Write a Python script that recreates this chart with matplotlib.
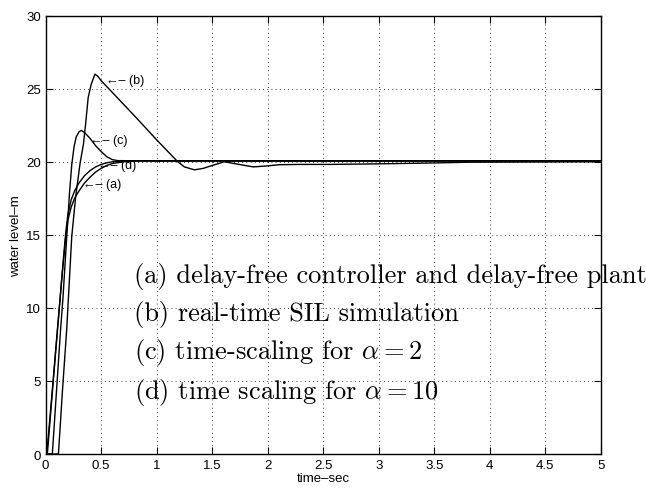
import matplotlib as mpl
mpl.use("Agg")
import matplotlib.pyplot as plt
import numpy as np

mpl.rcParams["font.family"] = "Liberation Sans"
mpl.rcParams["mathtext.fontset"] = "cm"

# curves (time in s, water level in m)
t_a = [0, 0.01, 0.05, 0.10, 0.15, 0.18, 0.20, 0.23, 0.26, 0.30, 0.35, 0.40,
       0.45, 0.50, 0.55, 0.60, 0.70, 0.80, 1.0, 5.0]
y_a = [0, 0, 3.5, 8.0, 12.4, 14.8, 16.0, 16.9, 17.5, 18.0, 18.55, 18.95,
       19.3, 19.55, 19.75, 19.88, 20.0, 20.05, 20.05, 20.05]

t_d = [0, 0.015, 0.05, 0.10, 0.15, 0.18, 0.20, 0.23, 0.26, 0.30, 0.35, 0.40,
       0.45, 0.50, 0.55, 0.60, 0.70, 0.80, 1.0, 5.0]
y_d = [0, 0, 3.3, 7.9, 12.5, 15.1, 16.4, 17.4, 18.0, 18.55, 19.05, 19.4,
       19.65, 19.82, 19.93, 20.0, 20.05, 20.07, 20.07, 20.07]

t_c = [0, 0.06, 0.10, 0.135, 0.155, 0.19, 0.215, 0.235, 0.255, 0.275, 0.30,
       0.32, 0.35, 0.40, 0.45, 0.50, 0.55, 0.60, 0.65, 0.75, 1.0, 5.0]
y_c = [0, 0, 4.6, 8.6, 10.6, 14.9, 17.9, 19.8, 21.0, 21.7, 22.05,
       22.15, 22.0, 21.6, 21.1, 20.7, 20.35, 20.15, 20.08, 20.07, 20.07, 20.07]

t_b = [0, 0.115, 0.15, 0.19, 0.235, 0.27, 0.31, 0.34, 0.36, 0.383, 0.41,
       0.444, 0.47, 0.50, 0.65, 0.83, 1.0, 1.19, 1.25, 1.34, 1.42, 1.50,
       1.61, 1.72, 1.87, 2.0, 2.1, 2.3, 2.56, 3.0, 3.5, 3.8, 5.0]
y_b = [0, 0, 4.2, 8.6, 14.9, 17.6, 19.9, 21.2, 22.6, 24.4, 25.3,
       26.0, 25.85, 25.55, 24.35, 22.9, 21.5, 20.0, 19.65, 19.45, 19.55, 19.75,
       20.0, 19.85, 19.65, 19.72, 19.8, 19.82, 19.82, 19.86, 19.92, 19.97, 20.0]

labels = ["(a)", "(b)", "(c)", "(d)"]
label_xy = [(0.335, 18.5), (0.54, 25.6), (0.40, 21.5), (0.47, 19.75)]

legend_lines = [
    "(a) delay-free controller and delay-free plant",
    "(b) real-time SIL simulation",
    r"(c) time-scaling for $\alpha = 2$",
    r"(d) time scaling for $\alpha = 10$",
]
legend_y = [12.2, 9.6, 7.0, 4.3]

fig = plt.figure(figsize=(6.46, 4.89), dpi=100)
ax = fig.add_axes([0.0707, 0.0695, 0.8593, 0.8964])

for t, y in [(t_a, y_a), (t_d, y_d), (t_c, y_c), (t_b, y_b)]:
    ax.plot(t, y, color="black", linewidth=1.0)

for lab, (x, y) in zip(labels, label_xy):
    ax.text(x, y, "\u2190\u2013 " + lab, fontsize=9, va="center", ha="left")

for line, y in zip(legend_lines, legend_y):
    ax.text(0.80, y, line, fontsize=19, family="cmr10", va="center", ha="left",
            clip_on=False)

ax.set_xlim(0, 5)
ax.set_ylim(0, 30)
ax.set_xticks(np.arange(0, 5.01, 0.5))
ax.set_xticklabels(["0", "0.5", "1", "1.5", "2", "2.5", "3", "3.5", "4", "4.5", "5"])
ax.set_yticks(np.arange(0, 31, 5))
ax.tick_params(direction="in", top=True, right=True, length=5, labelsize=9.5,
               width=0.8)
ax.grid(True, linestyle=(0, (1, 4)), color="black", linewidth=0.6)
for sp in ax.spines.values():
    sp.set_linewidth(1.0)

ax.set_xlabel("time\u2013sec", fontsize=9.5, labelpad=1)
ax.set_ylabel("water level\u2013m", fontsize=9.5, labelpad=3)

fig.savefig("out.png", dpi=100)
